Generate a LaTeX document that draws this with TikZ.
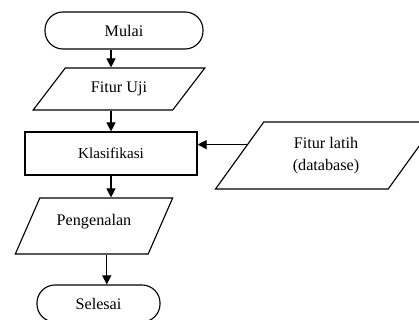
\documentclass[tikz,border=0pt]{standalone}
\usepackage{fontspec}
\setmainfont{Liberation Serif}
\usepackage{tikz}
\usetikzlibrary{shapes.geometric, arrows.meta, positioning, calc}

\begin{document}
\begin{tikzpicture}[
  x=0.025cm, y=-0.025cm,
  terminal/.style={draw, rectangle, rounded corners=0.45cm, minimum height=0.925cm,
               font=\fontsize{11.5}{13}\selectfont, line width=0.8pt},
  iobox/.style={draw, trapezium, trapezium stretches=true, align=center,
               font=\fontsize{11.5}{15.5}\selectfont, line width=0.8pt},
  procbox/.style={draw, rectangle, minimum width=4.3cm, minimum height=1.075cm,
               font=\fontsize{10.8}{13}\selectfont, line width=0.8pt},
  arr/.style={-{Triangle[length=6.5pt,width=6.5pt]}, line width=0.8pt},
]
  \useasboundingbox (0,0) rectangle (419,320);

  \node[terminal, minimum width=3.95cm] (mulai) at (124, 30.5) {Mulai};
  \node[iobox, trapezium left angle=50.2, trapezium right angle=129.8,
        minimum width=4.3cm, minimum height=1.05cm] (uji) at (119, 89) {Fitur Uji};
  \node[procbox] (klas) at (111, 153.5) {Klasifikasi};
  \node[iobox, trapezium left angle=60.3, trapezium right angle=119.7,
        minimum width=3.95cm, minimum height=1.4cm, text depth=9pt] (kenal) at (94, 226) {Pengenalan};
  \node[terminal, minimum width=3.075cm] (selesai) at (98.5, 303.5) {Selesai};
  \node[iobox, trapezium left angle=57.3, trapezium right angle=122.7,
        minimum width=5.55cm, minimum height=1.675cm] (latih) at (326, 155.5) {Fitur latih\\(database)};

  % Alur utama
  \draw[arr] (mulai.south -| klas) -- (uji.north -| klas);
  \draw[arr] (uji.south -| klas) -- (klas.north);
  \draw[arr] (klas.south) -- (kenal.north -| klas);
  \draw[arr] ([xshift=-3]kenal.south -| klas) -- ([xshift=-3]selesai.north -| klas);

  % Masukan data latih
  \coordinate (masuk) at ($(latih.top left corner)!0.34!(latih.bottom left corner)$);
  \draw[arr] (masuk) -- (masuk -| klas.east);
\end{tikzpicture}
\end{document}
